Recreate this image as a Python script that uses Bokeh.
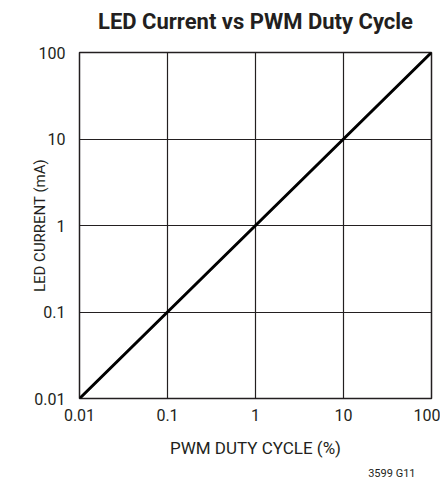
from bokeh.plotting import figure
from bokeh.models import Title, FixedTicker, CustomJSTickFormatter
from bokeh.embed import file_html
from bokeh.resources import INLINE

duty_cycle = [0.01, 0.1, 1, 10, 100]
led_current = [0.01, 0.1, 1, 10, 100]
tick_values = [0.01, 0.1, 1, 10, 100]
tick_labels = ["0.01", "0.1", "1", "10", "100"]
title_text = "LED Current vs PWM Duty Cycle"
x_label = "PWM DUTY CYCLE (%)"
y_label = "LED CURRENT (mA)"
note_text = "3599 G11"

FONT = "Roboto"
INK = "#231f20"

p = figure(width=440, height=484, x_axis_type="log", y_axis_type="log",
           x_range=(0.01, 100), y_range=(0.01, 100),
           output_backend="svg", toolbar_location=None,
           min_border_left=79, min_border_right=9, min_border_top=52, min_border_bottom=85)

p.line(duty_cycle, led_current, line_color="black", line_width=3)

fmt = CustomJSTickFormatter(args=dict(vals=tick_values, labs=tick_labels), code="""
for (let i = 0; i < vals.length; i++) { if (Math.abs(Math.log10(tick) - Math.log10(vals[i])) < 1e-6) return labs[i]; }
return '';
""")
for ax in (p.xaxis[0], p.yaxis[0]):
    ax.ticker = FixedTicker(ticks=tick_values, minor_ticks=[])
    ax.formatter = fmt
    ax.major_tick_line_color = None
    ax.minor_tick_line_color = None
    ax.axis_line_color = None
    ax.major_label_text_font = FONT
    ax.major_label_text_font_size = "16px"
    ax.major_label_text_color = INK
    ax.axis_label_text_font = FONT
    ax.axis_label_text_font_style = "normal"
    ax.axis_label_text_color = INK

p.xaxis.axis_label = x_label
p.yaxis.axis_label = y_label
p.xaxis.axis_label_text_font_size = "17px"
p.yaxis.axis_label_text_font_size = "15px"
p.xaxis.major_label_standoff = 4
p.yaxis.major_label_standoff = 8
p.xaxis.axis_label_standoff = 14
p.yaxis.axis_label_standoff = -18

for g in (p.xgrid[0], p.ygrid[0]):
    g.grid_line_color = INK
    g.grid_line_width = 1.2
    g.ticker = FixedTicker(ticks=tick_values)

p.outline_line_color = INK
p.outline_line_width = 1.5

# empty built-in title; spacer (nearest frame) + main title stacked above
p.title.text = ""
spacer = Title(text="\u00a0", standoff=4, text_font=FONT, text_font_size="10px",
               text_color=INK)
p.add_layout(spacer, "above")
main_title = Title(text=title_text, align="center", vertical_align="top", standoff=0,
                   text_font=FONT, text_font_size="22px", text_font_style="bold",
                   text_color=INK)
p.add_layout(main_title, "above")

note = Title(text=note_text, align="right", offset=16, standoff=9,
             vertical_align="bottom",
             text_font=FONT, text_font_size="11px", text_font_style="normal",
             text_color=INK)
p.add_layout(note, "below")

open("out.html", "w").write(file_html(p, INLINE))
